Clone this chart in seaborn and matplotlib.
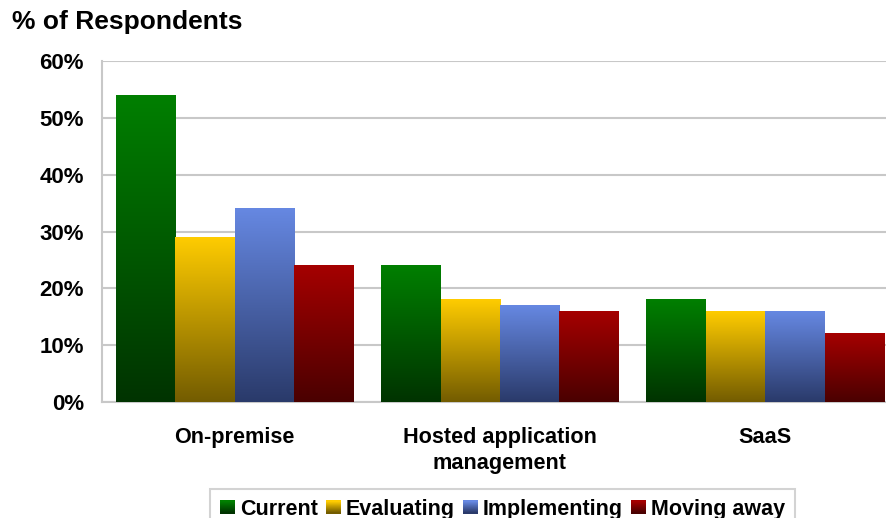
import numpy as np
import pandas as pd
import matplotlib
matplotlib.use("Agg")
import matplotlib.pyplot as plt
import seaborn as sns
from matplotlib.colors import LinearSegmentedColormap
from matplotlib.legend_handler import HandlerBase
from matplotlib.patches import Rectangle
from matplotlib.ticker import FixedLocator, FuncFormatter

categories = ["On-premise", "Hosted application\nmanagement", "SaaS"]
series = ["Current", "Evaluating", "Implementing", "Moving away"]
current = [54, 24, 18]
evaluating = [29, 18, 16]
implementing = [34, 17, 16]
moving_away = [24, 16, 12]
yticks = [0, 10, 20, 30, 40, 50, 60]

top_colors = ["#007f00", "#ffcc00", "#6688e2", "#a50000"]
bottom_colors = ["#003300", "#735c00", "#2a3a6a", "#4a0000"]

rows = []
for s, vals in zip(series, [current, evaluating, implementing, moving_away]):
    for c, v in zip(categories, vals):
        rows.append({"category": c, "series": s, "value": v})
df = pd.DataFrame(rows)

sns.set_style("white")
plt.rcParams["font.family"] = ["Liberation Sans", "DejaVu Sans"]
plt.rcParams["font.weight"] = "bold"
plt.rcParams["text.color"] = "black"
plt.rcParams["xtick.color"] = "black"
plt.rcParams["ytick.color"] = "black"

fig = plt.figure(figsize=(8.87, 5.18), dpi=100)
ax = fig.add_axes([102 / 887, 1 - 402 / 518, (898 - 102) / 887, (402 - 61) / 518])

palette = dict(zip(series, top_colors))
sns.barplot(data=df, x="category", y="value", hue="series", order=categories,
            hue_order=series, palette=palette, width=0.896, ax=ax,
            legend=False, saturation=1, linewidth=0, zorder=3)

cmaps = [LinearSegmentedColormap.from_list(f"g{i}", [bottom_colors[i], top_colors[i]])
         for i in range(len(series))]
grad = np.linspace(0, 1, 256).reshape(-1, 1)
for i, cont in enumerate(ax.containers):
    for p in cont:
        x, y, w, h = p.get_x(), p.get_y(), p.get_width(), p.get_height()
        ax.imshow(grad, cmap=cmaps[i], origin="lower", aspect="auto",
                  extent=[x, x + w, y, y + h], zorder=3, interpolation="bilinear")
        p.set_visible(False)

ax.set_xlim(-0.5, 2.5)
ax.set_ylim(0, 60)
ax.set_yticks(yticks)
ax.yaxis.set_major_formatter(FuncFormatter(lambda v, pos: f"{int(v)}%"))
ax.grid(axis="y", color="#c8c8c8", linewidth=1.5, zorder=0)
ax.set_axisbelow(True)
ax.xaxis.set_minor_locator(FixedLocator([-0.5, 0.5, 1.5, 2.5]))
ax.tick_params(axis="x", which="major", length=0, pad=18, labelsize=15.6, labelcolor="black")
ax.tick_params(axis="x", which="minor", length=7, width=1.5, color="#c8c8c8", direction="out")
ax.tick_params(axis="y", length=7, width=1.5, color="#c8c8c8", direction="out",
               labelsize=16, pad=6, labelcolor="black")
for lbl in ax.get_xticklabels():
    lbl.set_fontweight("bold")
    lbl.set_linespacing(1.3)
for lbl in ax.get_yticklabels():
    lbl.set_fontweight("bold")
ax.set_xlabel("")
ax.set_ylabel("")
for side in ["top", "right"]:
    ax.spines[side].set_visible(False)
for side in ["left", "bottom"]:
    ax.spines[side].set_color("#c8c8c8")
    ax.spines[side].set_linewidth(1.5)

fig.text(12 / 887, 1 - 22 / 518, "% of Respondents", fontsize=19, fontweight="bold",
         va="center", ha="left", color="black")


class GradientHandler(HandlerBase):
    def __init__(self, idx):
        super().__init__()
        self.idx = idx

    def create_artists(self, legend, orig_handle, xdescent, ydescent, width, height,
                       fontsize, trans):
        n = 12
        x0 = -xdescent
        y0 = -ydescent
        arts = []
        for k in range(n):
            c = cmaps[self.idx](k / (n - 1))
            r = Rectangle((x0, y0 + height * k / n), width, height / n + 0.3,
                          facecolor=c, edgecolor="none", transform=trans)
            arts.append(r)
        return arts


handles = [Rectangle((0, 0), 1, 1) for _ in series]
leg = fig.legend(handles, series, loc="upper left",
                 bbox_to_anchor=(210 / 887, 1 - 489 / 518), ncol=4,
                 handler_map={h: GradientHandler(i) for i, h in enumerate(handles)},
                 frameon=True, fancybox=False, edgecolor="#c8c8c8",
                 prop={"size": 15.5, "weight": "bold"}, handlelength=0.7,
                 handleheight=0.55, handletextpad=0.25, columnspacing=0.35,
                 borderpad=0.45, borderaxespad=0)
leg.get_frame().set_linewidth(1.5)
for t in leg.get_texts():
    t.set_color("black")

fig.savefig("out.png", dpi=100)
